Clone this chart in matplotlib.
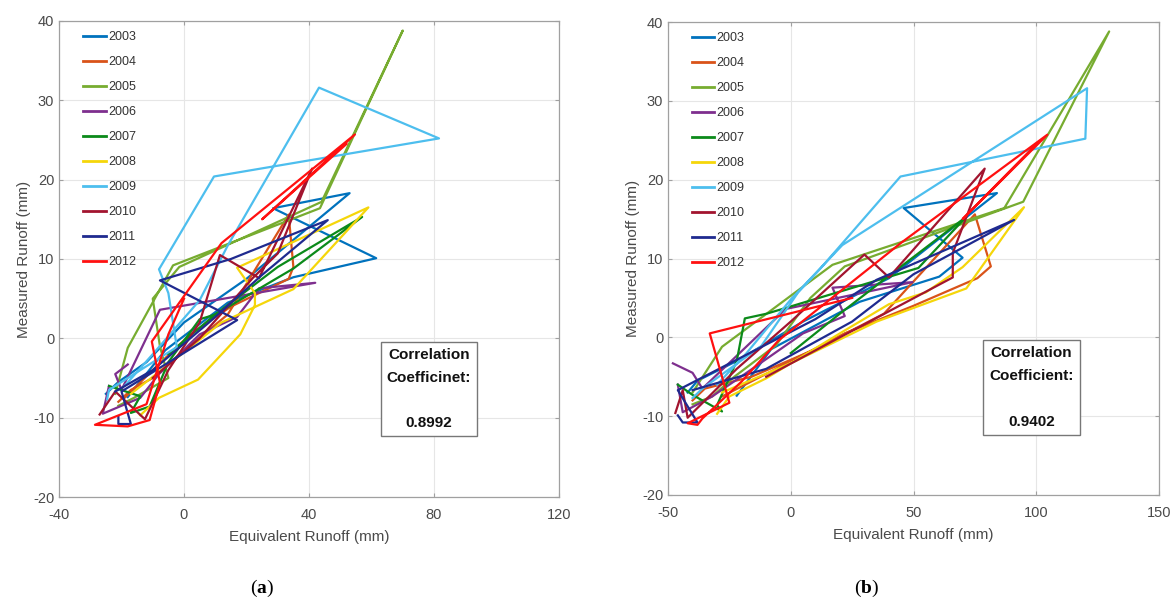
import numpy as np
import matplotlib
matplotlib.use('Agg')
import matplotlib.pyplot as plt

plt.rcParams['font.family'] = ['Liberation Sans', 'DejaVu Sans']
plt.rcParams['axes.unicode_minus'] = False
plt.rcParams['mathtext.fontset'] = 'custom'
plt.rcParams['mathtext.rm'] = 'Liberation Serif'
plt.rcParams['mathtext.bf'] = 'Liberation Serif:bold'

years = ['2003', '2004', '2005', '2006', '2007', '2008', '2009', '2010', '2011', '2012']
colors = ['#0072BD', '#D95319', '#77AC30', '#7E2F8E', '#0B8A1A',
          '#F5D60A', '#4DBEEE', '#A2142F', '#1F2A8F', '#FF1010']

# measured runoff (mm), shared by both panels
meas = {
    '2003': [-7.0, -5.5, -3.0, 2.0, 7.5, 18.3, 16.4, 10.1, 7.7, 4.5, -1.5, -7.4],
    '2004': [-8.0, -6.5, -5.0, -1.5, 3.0, 15.6, 9.0, 7.5, 4.0, 0.5, -4.0, -7.5],
    '2005': [-7.0, -1.2, 9.2, 16.4, 38.8, 17.2, 9.0, 5.0, -1.0, -5.0, -7.5, -8.5],
    '2006': [-3.3, -4.5, -6.5, 3.6, 7.0, 6.3, 2.7, 0.5, -4.5, -7.5, -9.5, -6.0],
    '2007': [-6.0, -7.3, -9.4, -8.6, -3.0, 2.4, 3.0, 8.8, 15.3, 9.0, 3.0, -2.0],
    '2008': [-9.7, -7.5, -5.2, 0.5, 4.2, 5.7, 8.9, 16.5, 6.2, 2.0, -3.0, -7.0],
    '2009': [-7.7, -6.5, -1.1, 5.7, 8.7, 20.4, 25.2, 31.6, 11.7, 4.8, -2.0, -6.0],
    '2010': [-9.6, -6.7, -10.2, -4.0, 2.0, 10.5, 7.6, 21.4, 10.7, 7.6, 0.0, -5.0],
    '2011': [-9.9, -10.8, -10.8, -6.7, 2.3, 7.3, 10.0, 14.9, 8.0, 2.0, -4.0, -6.7],
    '2012': [5.0, 0.5, -8.3, -10.9, -11.1, -10.3, -5.6, -0.4, 12.0, 25.7, 15.0, 24.5],
}

# equivalent runoff (mm), panel (a)
equiv_a = {
    '2003': [-25, -21, -12, 0, 20, 53, 28.5, 61.5, 35, 14, -6, -18],
    '2004': [-21, -17, -10, 0, 14, 33.5, 35, 33.5, 15, 2, -10, -19],
    '2005': [-22, -18, -3.5, 43.5, 70, 44, -1.5, -10, -7.7, -5, -16, -21],
    '2006': [-18, -22, -20, -7.7, 42, 24, 17, 5, -8, -14, -26, -24],
    '2007': [-24, -14, -17, -11, -5, 5, 10, 35, 57, 30, 10, -5],
    '2008': [-14, -8, 4.5, 18, 22.7, 22.7, 17, 59, 35, 12, -4, -17],
    '2009': [-24.6, -24.0, -2.3, -5.0, -8.0, 9.6, 81.6, 43.2, 14, 5, -10, -19],
    '2010': [-27, -22, -12.5, -5, 5, 11.5, 24, 41, 30, 22, 5, -10],
    '2011': [-21, -21, -17, -20, 17, -7.7, 15, 46, 25, 8, -10, -22],
    '2012': [0, -5, -12, -28.5, -18, -11, -7.7, -10.3, 12, 54.7, 25, 52],
}

# equivalent runoff (mm), panel (b)
equiv_b = {
    '2003': [-42, -38, -22, 5, 40, 84, 46, 70, 60.5, 28, -8, -22],
    '2004': [-40, -35, -16, 10, 38, 75, 81.5, 76, 50, 22, -6, -28],
    '2005': [-40, -28, 17, 87, 129.7, 94.7, 22, 8, -6, -23, -32, -40],
    '2006': [-48, -40, -36, -2, 49.6, 17, 22, 5, -18, -32, -44, -46],
    '2007': [-46, -40, -28, -30, -22, -18.7, -9.8, 52, 71.5, 45, 20, 0],
    '2008': [-30, -25, -10, 20, 40, 55, 70, 95, 71.5, 35, 2, -28],
    '2009': [-40, -36, -12, 3, 12, 44.7, 120, 120.7, 21, 0, -18, -30],
    '2010': [-47, -44, -42, -22, 0, 30, 40, 79, 66, 66, 20, -10],
    '2011': [-46, -44, -38, -46, 10, 35, 55, 91, 50, 25, -10, -40],
    '2012': [25, -33, -25, -42, -38, -36, -20, -5, 45, 104.5, 70, 100],
}

corr_text = ['Correlation\nCoefficinet:\n\n0.8992', 'Correlation\nCoefficient:\n\n0.9402']
panel_tags = [r'($\mathbf{a}$)', r'($\mathbf{b}$)']
xlims = [(-40, 120), (-50, 150)]
xticks = [np.arange(-40, 121, 40), np.arange(-50, 151, 50)]
gray = '#4a4a4a'

fig = plt.figure(figsize=(11.72, 5.99), dpi=100)
ax_a = fig.add_axes([59/1172, 1 - 497/599, 500/1172, 476/599])
ax_b = fig.add_axes([668/1172, 1 - 495/599, 491/1172, 473/599])

for i, (ax, eq) in enumerate([(ax_a, equiv_a), (ax_b, equiv_b)]):
    for yr, c in zip(years, colors):
        ax.plot(eq[yr], meas[yr], color=c, lw=1.6, label=yr)
    ax.set_xlim(*xlims[i])
    ax.set_ylim(-20, 40)
    ax.set_xticks(xticks[i])
    ax.set_yticks(np.arange(-20, 41, 10))
    ax.grid(True, color='#e6e6e6', lw=0.8)
    ax.set_axisbelow(True)
    for s in ax.spines.values():
        s.set_color('#a0a0a0')
        s.set_linewidth(0.9)
    ax.tick_params(direction='in', length=3, colors='#a0a0a0', labelcolor=gray,
                   labelsize=10.5, top=True, right=True)
    ax.tick_params(axis='x', pad=8)
    ax.set_xlabel('Equivalent Runoff (mm)', fontsize=11, color=gray, labelpad=6)
    ax.set_ylabel('Measured Runoff (mm)', fontsize=11, color=gray, labelpad=1)
    leg = ax.legend(loc='upper left', bbox_to_anchor=(0.048, 0.979), frameon=False,
                    fontsize=9, handlelength=1.8, handletextpad=0.2,
                    labelspacing=1.04, borderpad=0, borderaxespad=0)
    for ln in leg.get_lines():
        ln.set_linewidth(2.0)
    for t in leg.get_texts():
        t.set_color('#333333')
    ax.text(0.74, 0.227, corr_text[i], transform=ax.transAxes, ha='center', va='center',
            fontsize=11, fontweight='bold', linespacing=1.8, color='#111111',
            bbox=dict(boxstyle='square,pad=0.4', fc='white', ec='#777777', lw=1))

fig.text(262/1172, 1 - 588/599, panel_tags[0], ha='center', va='center', fontsize=14,
         family=['Liberation Serif', 'DejaVu Serif'])
fig.text(867/1172, 1 - 588/599, panel_tags[1], ha='center', va='center', fontsize=14,
         family=['Liberation Serif', 'DejaVu Serif'])

fig.savefig('out.png', dpi=100, facecolor='white')
